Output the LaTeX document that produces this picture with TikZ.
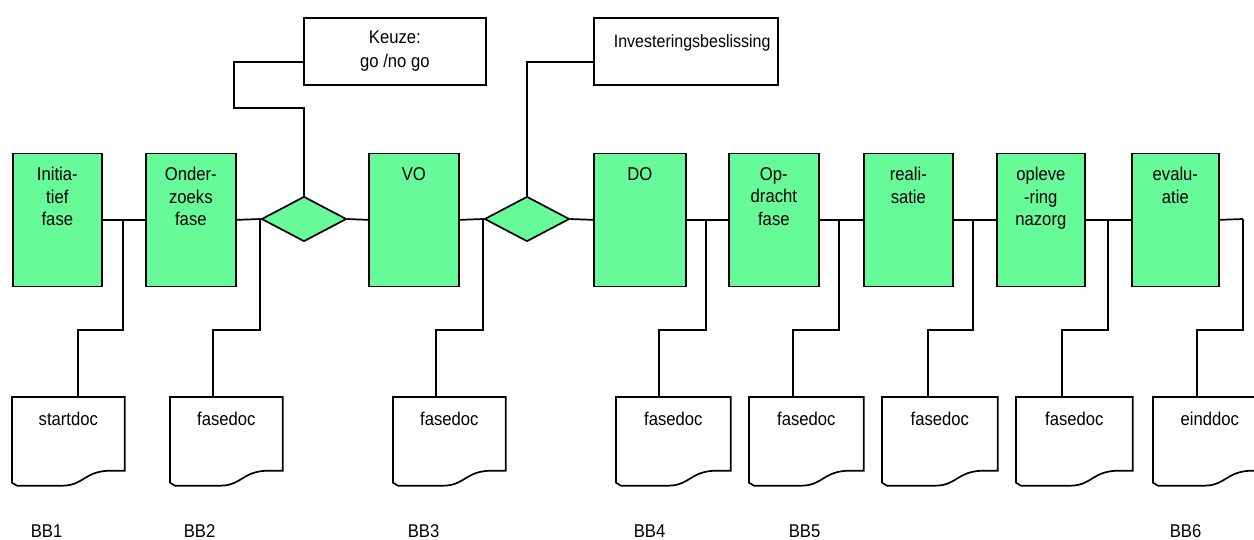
\documentclass[tikz,border=0pt]{standalone}
\usepackage{fontspec}
\setmainfont{Liberation Sans}[FakeStretch=0.9]
\usetikzlibrary{shapes.geometric}
\definecolor{phasegreen}{RGB}{102,250,153}
\newcommand\docoutline[1]{\draw (#1.north west) -- (#1.north east) -- ([yshift=15pt]#1.south east) -- ([xshift=-16pt,yshift=15pt]#1.south east) .. controls ([xshift=-41pt,yshift=14pt]#1.south east) and ([xshift=-41pt]#1.south east) .. ([xshift=-63pt]#1.south east) -- ([xshift=5pt]#1.south west) -- ([yshift=3pt]#1.south west) -- cycle;}
\begin{document}
\begin{tikzpicture}[x=1pt,y=-1pt,line width=1.7pt,
  txt/.style={font=\fontsize{18.5}{22.5}\selectfont},
  phase/.style={draw, fill=phasegreen, minimum height=133pt, inner sep=0, anchor=north west},
  phasetext/.style={inner sep=0, anchor=north, yshift=-14pt, align=center, txt},
  dmd/.style={diamond, draw, fill=phasegreen, minimum width=85pt, minimum height=45pt, inner sep=0},
  docbody/.style={minimum height=87pt, inner sep=0, anchor=north west, text height=28pt, text depth=59pt, txt},
  bblabel/.style={txt, anchor=base west, inner sep=0},
  topbox/.style={draw, minimum height=67pt, anchor=north west}]
\useasboundingbox (0,0) rectangle (1254,539);
% phase boxes
\node[phase, minimum width=89pt, label={[phasetext]north:{Initia-\\tief\\fase}}] (b1) at (12,152.5) {};
\node[phase, minimum width=90pt, label={[phasetext]north:{Onder-\\zoeks\\fase}}] (b2) at (145,152.5) {};
\node[phase, minimum width=90pt, label={[phasetext]north:{VO}}] (vo) at (368,152.5) {};
\node[phase, minimum width=92pt, label={[phasetext]north:{DO}}] (do) at (593,152.5) {};
\node[phase, minimum width=90pt, label={[phasetext]north:{Op-\\dracht\\fase}}] (op) at (728,152.5) {};
\node[phase, minimum width=89pt, label={[phasetext]north:{reali-\\satie}}] (re) at (863,152.5) {};
\node[phase, minimum width=88pt, label={[phasetext]north:{opleve\\-ring\\nazorg}}] (ol) at (996,152.5) {};
\node[phase, minimum width=87pt, label={[phasetext]north:{evalu-\\atie}}] (ev) at (1131,152.5) {};
% decisions
\node[dmd] (dm1) at (304,219) {};
\node[dmd] (dm2) at (527,219) {};
% top boxes
\node[topbox, minimum width=182pt, align=center, font=\fontsize{18.5}{24}\selectfont] (k) at (303,17) {Keuze:\\go /no go};
\node[topbox, minimum width=184pt, label={[inner sep=0, anchor=west, xshift=20pt, yshift=8.5pt, font=\fontsize{17.8}{22}\selectfont]west:Investeringsbeslissing}] (inv) at (593,17) {};
% documents
\node[docbody, minimum width=111pt] (d1) at (12,397) {startdoc};
\node[docbody, minimum width=111pt] (d2) at (170,397) {fasedoc};
\node[docbody, minimum width=111pt] (d3) at (393,397) {fasedoc};
\node[docbody, minimum width=113pt] (d4) at (616,397) {fasedoc};
\node[docbody, minimum width=113pt] (d5) at (749,397) {fasedoc};
\node[docbody, minimum width=114pt] (d6) at (882,397) {fasedoc};
\node[docbody, minimum width=115pt] (d7) at (1016,397) {fasedoc};
\node[docbody, minimum width=112pt] (d8) at (1153,397) {einddoc};
\docoutline{d1}\docoutline{d2}\docoutline{d3}\docoutline{d4}
\docoutline{d5}\docoutline{d6}\docoutline{d7}\docoutline{d8}
% BB labels
\node[bblabel] (bb1) at (30,537) {BB1};
\node[bblabel] (bb2) at (183,537) {BB2};
\node[bblabel] (bb3) at (407,537) {BB3};
\node[bblabel] (bb4) at (633,537) {BB4};
\node[bblabel] (bb5) at (788,537) {BB5};
\node[bblabel] (bb6) at (1169,537) {BB6};
% junctions
\coordinate (j1) at (123,219);
\coordinate (j2) at (260,219);
\coordinate (j3) at (483,219);
\coordinate (j4) at (706,219);
\coordinate (j5) at (839,219);
\coordinate (j6) at (973,219);
\coordinate (j7) at (1108,219);
\coordinate (j8) at (1243,219);
\coordinate (c1) at (234,108);
% main chain
\draw (b1.east) -- (b2.west);
\draw (b2.east) -- (dm1.west);
\draw (dm1.east) -- (vo.west);
\draw (vo.east) -- (dm2.west);
\draw (dm2.east) -- (do.west);
\draw (do.east) -- (op.west);
\draw (op.east) -- (re.west);
\draw (re.east) -- (ol.west);
\draw (ol.east) -- (ev.west);
\draw (ev.east) -- (j8);
% branches to documents
\draw (j1) -- ++(0,111) -| ([xshift=66pt]d1.north west);
\draw (j2) -- ++(0,111) -| ([xshift=43pt]d2.north west);
\draw (j3) -- ++(0,111) -| ([xshift=43pt]d3.north west);
\draw (j4) -- ++(0,111) -| ([xshift=43pt]d4.north west);
\draw (j5) -- ++(0,111) -| ([xshift=44pt]d5.north west);
\draw (j6) -- ++(0,111) -| ([xshift=46pt]d6.north west);
\draw (j7) -- ++(0,111) -| ([xshift=46pt]d7.north west);
\draw (j8) -- ++(0,111) -| ([xshift=44pt]d8.north west);
% decision connectors
\draw (dm1.north) |- (c1) |- ([yshift=-10.5pt]k.west);
\draw (dm2.north) |- ([yshift=-10.5pt]inv.west);
\end{tikzpicture}
\end{document}
